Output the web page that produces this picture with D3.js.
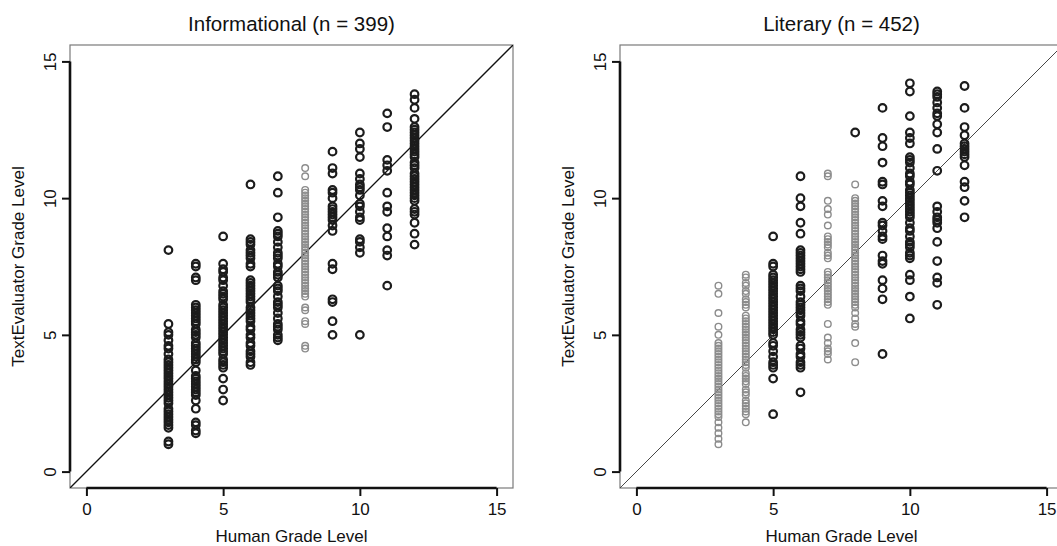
<!DOCTYPE html>
<html>
<head>
<meta charset="utf-8">
<script src="https://cdn.jsdelivr.net/npm/d3@7"></script>
<style>
  body { margin: 0; background: #fff; }
  svg { display: block; font-family: "Liberation Sans", Arial, sans-serif; }
</style>
</head>
<body>
<div id="chart"></div>
<script>
// grade-level readings, one array per human grade (black = dark points, Gray = light points)
const info3 = [8.1, 5.4, 5.1, 5.0, 4.8, 4.6, 4.5, 4.3, 4.1, 4.0, 3.9, 3.8, 3.7, 3.6, 3.5, 3.4, 3.3, 3.2, 3.1, 3.0, 2.9, 2.8, 2.7, 2.6, 2.5, 2.3, 2.2, 2.1, 2.0, 1.9, 1.8, 1.7, 1.6, 1.1, 1.0];
const info4 = [7.6, 7.5, 7.1, 7.0, 6.1, 6.0, 5.9, 5.8, 5.7, 5.6, 5.5, 5.4, 5.2, 5.1, 5.0, 4.9, 4.7, 4.6, 4.5, 4.4, 4.3, 4.2, 4.1, 4.0, 3.7, 3.5, 3.4, 3.3, 3.2, 3.1, 3.0, 2.9, 2.8, 2.6, 2.3, 1.8, 1.7, 1.5, 1.4];
const info5 = [8.6, 7.6, 7.4, 7.3, 7.1, 7.0, 6.8, 6.6, 6.5, 6.4, 6.3, 6.1, 6.0, 5.9, 5.8, 5.7, 5.6, 5.5, 5.4, 5.3, 5.2, 5.1, 5.0, 4.9, 4.8, 4.7, 4.6, 4.5, 4.4, 4.3, 4.1, 4.0, 3.9, 3.8, 3.4, 3.0, 2.6];
const info6 = [10.5, 8.5, 8.4, 8.3, 8.1, 8.0, 7.9, 7.8, 7.6, 7.5, 7.0, 6.9, 6.8, 6.7, 6.6, 6.5, 6.4, 6.3, 6.2, 6.0, 5.9, 5.8, 5.7, 5.6, 5.5, 5.3, 5.2, 5.0, 4.9, 4.7, 4.6, 4.4, 4.3, 4.2, 4.0, 3.9];
const info7 = [10.8, 10.2, 9.3, 8.8, 8.7, 8.6, 8.4, 8.2, 8.0, 7.9, 7.8, 7.6, 7.5, 7.3, 7.2, 7.1, 6.8, 6.7, 6.6, 6.4, 6.2, 6.1, 6.0, 5.8, 5.6, 5.4, 5.3, 5.2, 5.0, 4.9, 4.8];
const info8Gray = [11.1, 10.8, 10.3, 10.2, 10.1, 10.0, 9.9, 9.8, 9.7, 9.6, 9.5, 9.4, 9.3, 9.2, 9.1, 9.0, 8.9, 8.8, 8.7, 8.6, 8.5, 8.4, 8.3, 8.2, 8.1, 8.0, 7.9, 7.8, 7.7, 7.6, 7.5, 7.4, 7.3, 7.2, 7.1, 7.0, 6.9, 6.8, 6.7, 6.6, 6.5, 6.4, 6.0, 5.9, 5.5, 5.4, 4.6, 4.5];
const info9 = [11.7, 11.1, 10.9, 10.3, 10.2, 10.0, 9.7, 9.6, 9.5, 9.4, 9.3, 9.2, 9.0, 8.8, 7.6, 7.4, 6.3, 6.2, 5.5, 5.0];
const info10 = [12.4, 12.0, 11.8, 11.5, 10.9, 10.7, 10.5, 10.4, 10.3, 10.1, 9.8, 9.7, 9.5, 9.3, 9.2, 8.5, 8.4, 8.2, 8.0, 5.0];
const info11 = [13.1, 12.6, 11.4, 11.2, 11.0, 10.2, 9.7, 9.5, 8.9, 8.6, 8.1, 7.9, 6.8];
const info12 = [13.8, 13.6, 13.3, 12.9, 12.6, 12.5, 12.4, 12.3, 12.2, 12.1, 12.0, 11.9, 11.8, 11.7, 11.6, 11.5, 11.3, 11.2, 11.1, 10.9, 10.8, 10.7, 10.6, 10.5, 10.4, 10.3, 10.2, 10.1, 10.0, 9.9, 9.6, 9.5, 9.4, 9.1, 8.7, 8.3];

const lit3Gray = [6.8, 6.5, 5.8, 5.3, 5.0, 4.7, 4.6, 4.5, 4.4, 4.3, 4.2, 4.1, 4.0, 3.9, 3.8, 3.7, 3.6, 3.5, 3.4, 3.3, 3.2, 3.1, 3.0, 2.9, 2.8, 2.7, 2.6, 2.5, 2.4, 2.3, 2.2, 2.1, 2.0, 1.8, 1.6, 1.4, 1.2, 1.0];
const lit4Gray = [7.2, 7.1, 6.9, 6.8, 6.6, 6.5, 6.3, 6.2, 6.1, 6.0, 5.7, 5.6, 5.5, 5.4, 5.3, 5.2, 5.1, 5.0, 4.9, 4.8, 4.7, 4.6, 4.5, 4.4, 4.3, 4.2, 4.1, 4.0, 3.9, 3.8, 3.6, 3.5, 3.4, 3.3, 3.2, 3.0, 2.9, 2.8, 2.6, 2.5, 2.4, 2.3, 2.2, 2.1, 1.8];
const lit5 = [8.6, 7.6, 7.5, 7.2, 7.1, 7.0, 6.9, 6.8, 6.7, 6.6, 6.5, 6.4, 6.3, 6.2, 6.1, 6.0, 5.9, 5.8, 5.7, 5.6, 5.5, 5.4, 5.3, 5.2, 5.1, 5.0, 4.7, 4.6, 4.4, 4.2, 4.0, 3.9, 3.8, 3.4, 2.1];
const lit6 = [10.8, 10.0, 9.7, 9.1, 8.7, 8.1, 8.0, 7.9, 7.8, 7.7, 7.6, 7.5, 7.4, 7.3, 6.8, 6.7, 6.6, 6.4, 6.2, 6.1, 6.0, 5.9, 5.8, 5.7, 5.5, 5.4, 5.2, 5.1, 5.0, 4.9, 4.6, 4.5, 4.3, 4.2, 4.0, 3.9, 3.8, 2.9];
const lit7Gray = [10.9, 10.8, 9.9, 9.6, 9.4, 9.0, 8.6, 8.5, 8.4, 8.3, 8.2, 8.0, 7.9, 7.8, 7.3, 7.2, 7.1, 7.0, 6.9, 6.8, 6.7, 6.6, 6.5, 6.4, 6.3, 6.2, 6.1, 5.4, 4.9, 4.7, 4.5, 4.4, 4.3, 4.1];
const lit8 = [12.4];
const lit8Gray = [10.5, 10.0, 9.9, 9.8, 9.7, 9.6, 9.5, 9.4, 9.3, 9.2, 9.1, 9.0, 8.9, 8.8, 8.7, 8.6, 8.5, 8.4, 8.3, 8.2, 8.1, 8.0, 7.9, 7.8, 7.7, 7.6, 7.5, 7.4, 7.3, 7.2, 7.1, 7.0, 6.9, 6.8, 6.7, 6.6, 6.5, 6.4, 6.3, 6.2, 6.1, 6.0, 5.8, 5.6, 5.4, 5.3, 4.7, 4.0];
const lit9 = [13.3, 12.2, 11.9, 11.3, 10.6, 10.5, 9.9, 9.7, 9.1, 9.0, 8.8, 8.6, 8.5, 7.9, 7.7, 7.6, 7.0, 6.7, 6.3, 4.3];
const lit10 = [14.2, 13.9, 13.0, 12.4, 12.2, 12.0, 11.5, 11.4, 11.3, 11.1, 10.9, 10.8, 10.6, 10.5, 10.3, 10.2, 10.1, 10.0, 9.9, 9.8, 9.7, 9.6, 9.5, 9.4, 9.3, 9.1, 8.9, 8.8, 8.6, 8.4, 8.3, 8.2, 8.0, 7.9, 7.8, 7.2, 7.0, 6.4, 5.6];
const lit11 = [13.9, 13.8, 13.7, 13.5, 13.3, 13.1, 13.0, 12.7, 12.4, 11.8, 11.0, 9.7, 9.5, 9.3, 9.2, 9.1, 8.9, 8.4, 7.7, 7.1, 6.9, 6.1];
const lit12 = [14.1, 13.3, 12.6, 12.3, 12.0, 11.9, 11.8, 11.7, 11.6, 11.5, 11.2, 10.6, 10.4, 9.9, 9.3];

const axisTicks = [0, 5, 10, 15];
const titles = ["Informational (n = 399)", "Literary (n = 452)"];
const xTitle = "Human Grade Level";
const yTitle = "TextEvaluator Grade Level";

// turn [grade, values] lists into point rows
function rows(list, gray) {
  const out = [];
  list.forEach(([g, vals]) => vals.forEach(v => out.push({ x: g, y: v, gray: gray })));
  return out;
}

const infoPts = rows([[3, info3], [4, info4], [5, info5], [6, info6], [7, info7],
  [9, info9], [10, info10], [11, info11], [12, info12]], false)
  .concat(rows([[8, info8Gray]], true));
const litPts = rows([[3, lit3Gray], [4, lit4Gray], [7, lit7Gray], [8, lit8Gray]], true)
  .concat(rows([[5, lit5], [6, lit6], [8, lit8], [9, lit9], [10, lit10], [11, lit11], [12, lit12]], false));

const W = 1057, H = 546;
const size = 443, plotTop = 45;
const panels = [
  { left: 70, title: titles[0], pts: infoPts, diag: { c: "#111", w: 1.3 } },
  { left: 620, title: titles[1], pts: litPts, diag: { c: "#333", w: 0.9 } }
];

const svg = d3.select("#chart").append("svg")
  .attr("width", W).attr("height", H);
svg.append("rect").attr("width", W).attr("height", H).attr("fill", "#fff");

panels.forEach(function (p, i) {
  const x = d3.scaleLinear().domain([-0.6, 15.6]).range([p.left, p.left + size]);
  const y = d3.scaleLinear().domain([-0.6, 15.6]).range([plotTop + size, plotTop]);
  const g = svg.append("g");

  const clipId = "clip" + i;
  svg.append("clipPath").attr("id", clipId).append("rect")
    .attr("x", p.left).attr("y", plotTop).attr("width", size).attr("height", size);

  // box
  g.append("rect")
    .attr("x", p.left).attr("y", plotTop).attr("width", size).attr("height", size)
    .attr("fill", "none").attr("stroke", "#7a7a7a").attr("stroke-width", 1.2);

  // identity line
  g.append("line")
    .attr("clip-path", "url(#" + clipId + ")")
    .attr("x1", x(-0.6)).attr("y1", y(-0.6)).attr("x2", x(15.6)).attr("y2", y(15.6))
    .attr("stroke", p.diag.c).attr("stroke-width", p.diag.w);

  // points: gray first, black on top
  const pts = p.pts.slice().sort((a, b) => (b.gray ? 1 : 0) - (a.gray ? 1 : 0));
  g.append("g").selectAll("circle")
    .data(pts)
    .join("circle")
      .attr("cx", d => x(d.x))
      .attr("cy", d => y(d.y))
      .attr("r", d => d.gray ? 3.3 : 3.8)
      .attr("fill", "none")
      .attr("stroke", d => d.gray ? "#8c8c8c" : "#1c1c1c")
      .attr("stroke-width", d => d.gray ? 1.4 : 2.2);

  // axes (R style: line only from first to last tick)
  const xAxis = g.append("g")
    .attr("transform", "translate(0," + (plotTop + size) + ")")
    .call(d3.axisBottom(x).tickValues(axisTicks).tickSize(8).tickSizeOuter(0));
  xAxis.select(".domain").remove();
  xAxis.selectAll(".tick line").attr("stroke", "#111").attr("stroke-width", 2);
  xAxis.selectAll(".tick text")
    .attr("y", 27).attr("dy", 0)
    .attr("fill", "#111").style("font-size", "17px").style("font-family", "Liberation Sans, Arial, sans-serif");
  xAxis.append("line")
    .attr("x1", x(0)).attr("x2", x(15)).attr("y1", 0).attr("y2", 0)
    .attr("stroke", "#111").attr("stroke-width", 2.6);

  const yAxis = g.append("g")
    .attr("transform", "translate(" + p.left + ",0)")
    .call(d3.axisLeft(y).tickValues(axisTicks).tickSize(8).tickSizeOuter(0));
  yAxis.select(".domain").remove();
  yAxis.selectAll(".tick line").attr("stroke", "#111").attr("stroke-width", 2);
  yAxis.selectAll(".tick text")
    .attr("x", 0).attr("dy", 0)
    .attr("text-anchor", "middle")
    .attr("transform", "translate(-14.5,0) rotate(-90)")
    .attr("fill", "#111").style("font-size", "17px").style("font-family", "Liberation Sans, Arial, sans-serif");
  yAxis.append("line")
    .attr("y1", y(0)).attr("y2", y(15)).attr("x1", 0).attr("x2", 0)
    .attr("stroke", "#111").attr("stroke-width", 2.6);

  // titles
  const cx = p.left + size / 2;
  g.append("text")
    .attr("x", cx).attr("y", 31)
    .attr("text-anchor", "middle")
    .style("font-size", "20.5px").attr("fill", "#111")
    .text(p.title);
  g.append("text")
    .attr("x", cx).attr("y", 541.5)
    .attr("text-anchor", "middle")
    .style("font-size", "17px").attr("fill", "#111")
    .text(xTitle);
  g.append("text")
    .attr("transform", "translate(" + (p.left - 46.5) + "," + (plotTop + size / 2) + ") rotate(-90)")
    .attr("text-anchor", "middle")
    .style("font-size", "17px").attr("fill", "#111")
    .text(yTitle);
});
</script>
</body>
</html>
